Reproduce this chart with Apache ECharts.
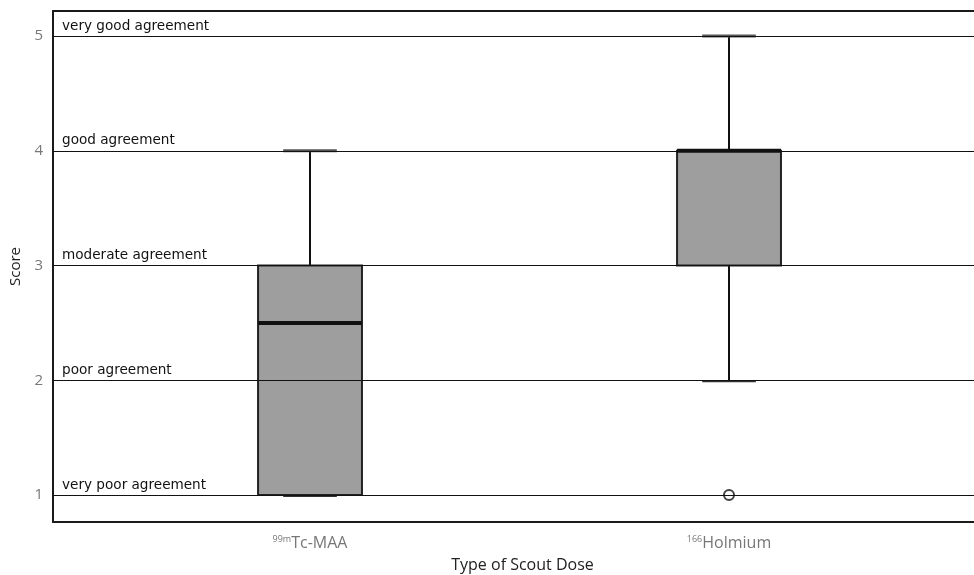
<!DOCTYPE html>
<html>
<head>
<meta charset="utf-8">
<style>html,body{margin:0;padding:0;background:#fff;}#chart{width:974px;height:575px;}</style>
<script src="https://cdn.jsdelivr.net/npm/echarts@6/dist/echarts.min.js"></script>
</head>
<body>
<div id="chart"></div>
<script>
// Data
const categories = ['99mTc-MAA', '166Holmium'];
const categoryPositions = [1, 2];
// [min, Q1, median, Q3, max]
const boxStats = [
  [1, 1, 2.5, 3, 4],
  [2, 3, 4, 4, 5]
];
const outliers = [[2, 1]];
const agreementLevels = [1, 2, 3, 4, 5];
const agreementLabels = ['very poor agreement', 'poor agreement', 'moderate agreement', 'good agreement', 'very good agreement'];
const yTicks = [1, 2, 3, 4, 5];

const boxData = categoryPositions.map((p, i) => [p].concat(boxStats[i]));

const chart = echarts.init(document.getElementById('chart'), null, {renderer: 'canvas'});
const boxWidthUnits = 0.248;
const capWidthUnits = 0.128;

function renderBox(params, api) {
  const x = api.value(0);
  const pMin = api.coord([x, api.value(1)]);
  const pQ1 = api.coord([x, api.value(2)]);
  const pMed = api.coord([x, api.value(3)]);
  const pQ3 = api.coord([x, api.value(4)]);
  const pMax = api.coord([x, api.value(5)]);
  const bw = api.size([boxWidthUnits, 0])[0];
  const cw = api.size([capWidthUnits, 0])[0];
  const cx = pMed[0];
  const children = [];
  children.push({type: 'line', shape: {x1: cx, y1: pQ3[1], x2: cx, y2: pMax[1]}, style: {stroke: '#111', lineWidth: 2}});
  children.push({type: 'line', shape: {x1: cx, y1: pQ1[1], x2: cx, y2: pMin[1]}, style: {stroke: '#111', lineWidth: 2}});
  children.push({type: 'line', shape: {x1: cx - cw / 2, y1: pMax[1], x2: cx + cw / 2, y2: pMax[1]}, style: {stroke: '#555', lineWidth: 3}});
  children.push({type: 'line', shape: {x1: cx - cw / 2, y1: pMin[1] + 1, x2: cx + cw / 2, y2: pMin[1] + 1}, style: {stroke: '#333', lineWidth: 2}});
  children.push({type: 'rect', shape: {x: cx - bw / 2, y: pQ3[1], width: bw, height: pQ1[1] - pQ3[1]}, style: {fill: '#9e9e9e', stroke: '#222', lineWidth: 2}});
  children.push({type: 'line', shape: {x1: cx - bw / 2, y1: pMed[1], x2: cx + bw / 2, y2: pMed[1]}, style: {stroke: '#111', lineWidth: 4}});
  return {type: 'group', children: children};
}

const option = {
  animation: false,
  backgroundColor: '#fff',
  grid: {left: 53, right: 0, top: 11, bottom: 53, show: false, outerBoundsMode: 'none', containLabel: false},
  xAxis: [{
    type: 'value',
    min: 0.3866,
    max: 2.5847,
    name: 'Type of Scout Dose',
    nameLocation: 'middle',
    nameGap: 35,
    nameTextStyle: {fontFamily: 'Open Sans', fontSize: 16, color: '#222', padding: [0, 0, 0, 18]},
    axisLine: {show: true, onZero: false, lineStyle: {color: '#1a1a1a', width: 2}},
    axisTick: {show: false},
    splitLine: {show: false},
    axisLabel: {
      customValues: categoryPositions,
      margin: 13,
      formatter: function (v) {
        const i = categoryPositions.indexOf(v);
        if (i < 0) return '';
        const m = categories[i].match(/^(\d+m?)(.*)$/);
        return '{sup|' + m[1] + '}{main|' + m[2] + '}';
      },
      rich: {
        sup: {fontFamily: 'Open Sans', fontSize: 9, color: '#777', verticalAlign: 'top', padding: [0, 0, 7, 0]},
        main: {fontFamily: 'Open Sans', fontSize: 16, color: '#777'}
      }
    }
  }, {
    type: 'value',
    position: 'top',
    min: 0.3866,
    max: 2.5847,
    axisLine: {show: true, onZero: false, lineStyle: {color: '#1a1a1a', width: 2}},
    axisTick: {show: false},
    axisLabel: {show: false},
    splitLine: {show: false}
  }],
  yAxis: {
    type: 'value',
    min: 0.765,
    max: 5.218,
    name: 'Score',
    nameLocation: 'middle',
    nameGap: 29,
    nameTextStyle: {fontFamily: 'Open Sans', fontSize: 15, color: '#222'},
    axisLine: {show: true, onZero: false, lineStyle: {color: '#1a1a1a', width: 2}},
    axisTick: {show: false},
    splitLine: {show: false},
    axisLabel: {
      customValues: yTicks,
      margin: 10,
      fontFamily: 'Open Sans',
      fontSize: 15,
      color: '#777',
      formatter: function (v) { return String(Math.round(v)); }
    }
  },
  series: [
    {
      type: 'line',
      data: [],
      z: 1,
      markLine: {
        silent: true,
        symbol: ['none', 'none'],
        lineStyle: {color: '#111', width: 1.2, type: 'solid'},
        label: {
          show: true,
          position: 'insideStartTop',
          distance: [9, 3],
          fontFamily: 'DejaVu Sans',
          fontSize: 13.6,
          color: '#111',
          formatter: function (p) { return agreementLabels[agreementLevels.indexOf(p.value)]; }
        },
        data: agreementLevels.map(v => ({yAxis: v}))
      }
    },
    {
      type: 'custom',
      z: 3,
      renderItem: renderBox,
      encode: {x: 0, y: [1, 2, 3, 4, 5]},
      data: boxData
    },
    {
      type: 'scatter',
      z: 4,
      symbol: 'circle',
      symbolSize: 10,
      itemStyle: {color: '#fff', borderColor: '#111', borderWidth: 2},
      data: outliers
    }
  ]
};
chart.setOption(option);
</script>
</body>
</html>
